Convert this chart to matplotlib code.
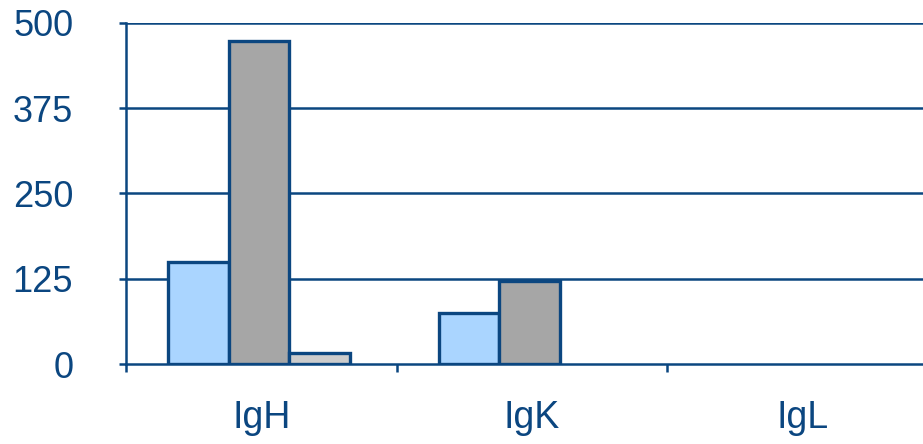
import matplotlib
matplotlib.use("Agg")
import matplotlib.pyplot as plt
import numpy as np

categories = ["IgH", "IgK", "IgL"]
series_a = [150, 75, 0]
series_b = [473, 122, 0]
series_c = [16, 0, 0]
yticks = [0, 125, 250, 375, 500]

navy = "#0B4680"
colors = ["#AAD5FF", "#A6A6A6", "#CCCCCC"]

plt.rcParams['font.family'] = ['Liberation Sans', 'DejaVu Sans']

fig = plt.figure(figsize=(9.23, 4.44), dpi=100)
ax = fig.add_axes([126/923, 80/444, 811.5/923, 341/444])

x = np.arange(len(categories))
w = 0.224
for i, (vals, c) in enumerate(zip([series_a, series_b, series_c], colors)):
    vals = np.array(vals, dtype=float)
    keep = vals > 0
    ax.bar((x + (i - 1) * w - 0.008)[keep], vals[keep], w, color=c,
           edgecolor=navy, linewidth=2.4, zorder=3)

ax.set_xlim(-0.5, len(categories) - 0.5)
ax.set_ylim(0, 500)
ax.set_yticks(yticks)
ax.set_yticklabels([str(v) for v in yticks])
for v in yticks[1:]:
    ax.axhline(v, color=navy, linewidth=1.8, zorder=1)

ax.set_xticks(x)
ax.set_xticklabels(categories)
ax.set_xticks(np.arange(len(categories) + 1) - 0.5, minor=True)
ax.tick_params(axis='x', which='major', length=0, pad=26, labelsize=27, labelcolor=navy)
ax.tick_params(axis='x', which='minor', length=6, width=1.8, color=navy, direction='out')
ax.tick_params(axis='y', length=5, width=1.8, color=navy, pad=33, labelsize=26, labelcolor=navy)

for s in ['top', 'right']:
    ax.spines[s].set_visible(False)
for s in ['left', 'bottom']:
    ax.spines[s].set_color(navy)
    ax.spines[s].set_linewidth(1.8)

fig.savefig("out.png", dpi=100)
